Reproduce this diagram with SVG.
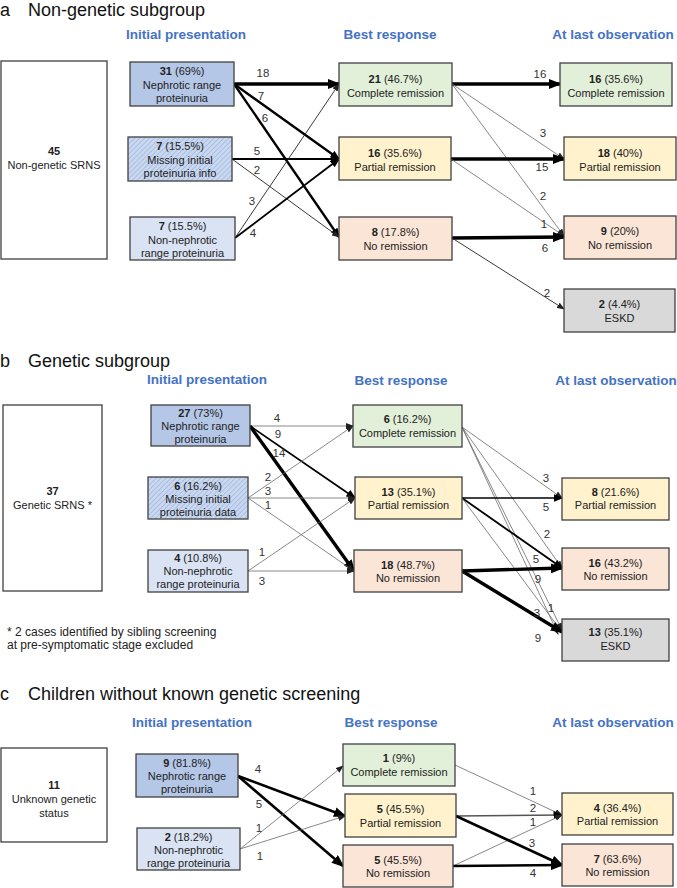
<svg xmlns="http://www.w3.org/2000/svg" width="677" height="888" viewBox="0 0 677 888">
<style>
.ti{font-family:"Liberation Sans",Arial,sans-serif;font-size:18px;fill:#111}
.hd{font-family:"Liberation Sans",Arial,sans-serif;font-size:13.5px;font-weight:bold;fill:#4472c4;text-anchor:middle}
.nt{font-family:"Liberation Sans",Arial,sans-serif;font-size:11px;fill:#222;text-anchor:middle}
.nt .b{font-weight:bold}
.lb{font-family:"Liberation Sans",Arial,sans-serif;font-size:11.5px;fill:#333;text-anchor:middle}
.fn{font-family:"Liberation Sans",Arial,sans-serif;font-size:12px;fill:#222}
.box{stroke:#404040;stroke-width:1.3}
.white{fill:#fff}
.neph{fill:#b4c7e7}
.miss{fill:url(#hatch)}
.non{fill:#dae3f3}
.cr{fill:#e2f0d9}
.pr{fill:#fff2cc}
.nr{fill:#fbe5d6}
.es{fill:#d9d9d9}
.c line{fill:none}
.th{stroke:#6a6a6a;stroke-width:0.8;marker-end:url(#aS)}
.td{stroke:#222;stroke-width:0.9;marker-end:url(#aS)}
.m1{stroke:#000;stroke-width:1.3;marker-end:url(#aM)}
.m2{stroke:#000;stroke-width:1.8;marker-end:url(#aM)}
.m3{stroke:#000;stroke-width:2.3;marker-end:url(#aM)}
.k3{stroke:#000;stroke-width:2.6;marker-end:url(#aL)}
.k4{stroke:#000;stroke-width:3.4;marker-end:url(#aL)}
</style>
<defs>
<pattern id="hatch" width="3.5" height="3.5" patternUnits="userSpaceOnUse" patternTransform="rotate(45)">
<rect width="3.5" height="3.5" fill="#cad8ef"/>
<line x1="0" y1="0" x2="0" y2="3.5" stroke="#95b0de" stroke-width="1.2"/>
</pattern>
<marker id="aL" markerUnits="userSpaceOnUse" markerWidth="13" markerHeight="10" refX="11" refY="5" orient="auto"><path d="M0,0 L13,5 L0,10 z" fill="#000"/></marker>
<marker id="aM" markerUnits="userSpaceOnUse" markerWidth="10" markerHeight="8" refX="8.5" refY="4" orient="auto"><path d="M0,0 L10,4 L0,8 z" fill="#000"/></marker>
<marker id="aS" markerUnits="userSpaceOnUse" markerWidth="8" markerHeight="6" refX="7" refY="3" orient="auto"><path d="M0,0 L8,3 L0,6 z" fill="#222"/></marker>
</defs>
<rect width="677" height="888" fill="#fff"/>

<!-- titles and headers -->
<text class="ti" x="0" y="16">a</text><text class="ti" x="28" y="16">Non-genetic subgroup</text>
<text class="hd" x="186" y="39">Initial presentation</text>
<text class="hd" x="390" y="39">Best response</text>
<text class="hd" x="613" y="39">At last observation</text>

<text class="ti" x="0" y="367">b</text><text class="ti" x="28" y="367">Genetic subgroup</text>
<text class="hd" x="207" y="384">Initial presentation</text>
<text class="hd" x="401" y="385">Best response</text>
<text class="hd" x="616" y="385">At last observation</text>

<text class="fn" x="7" y="636">* 2 cases identified by sibling screening</text>
<text class="fn" x="7" y="649">at pre-symptomatic stage excluded</text>

<text class="ti" x="0" y="700">c</text><text class="ti" x="28" y="700">Children without known genetic screening</text>
<text class="hd" x="192" y="727">Initial presentation</text>
<text class="hd" x="391" y="727">Best response</text>
<text class="hd" x="613" y="727">At last observation</text>

<!-- connectors -->
<g id="connectors" class="c">
<!-- a -->
<line class="k4" x1="234" y1="84" x2="339" y2="84"/>
<line class="m3" x1="234" y1="84" x2="339" y2="159"/>
<line class="m3" x1="234" y1="84" x2="339" y2="237"/>
<line class="m2" x1="232" y1="159" x2="339" y2="159"/>
<line class="td" x1="232" y1="159" x2="339" y2="237"/>
<line class="td" x1="235" y1="238" x2="339" y2="84"/>
<line class="m2" x1="235" y1="238" x2="339" y2="159"/>
<line class="k4" x1="452" y1="84" x2="560" y2="84"/>
<line class="th" x1="452" y1="84" x2="564" y2="159"/>
<line class="th" x1="452" y1="84" x2="564" y2="236"/>
<line class="k4" x1="451" y1="159" x2="564" y2="159"/>
<line class="th" x1="451" y1="159" x2="564" y2="236"/>
<line class="k4" x1="452" y1="238" x2="564" y2="237"/>
<line class="td" x1="452" y1="238" x2="564" y2="309"/>
<!-- b -->
<line class="th" x1="250" y1="426" x2="353" y2="426"/>
<line class="m2" x1="250" y1="426" x2="355" y2="498"/>
<line class="k4" x1="250" y1="426" x2="354" y2="571"/>
<line class="th" x1="248" y1="498" x2="353" y2="426"/>
<line class="th" x1="248" y1="498" x2="355" y2="498"/>
<line class="th" x1="248" y1="498" x2="354" y2="571"/>
<line class="th" x1="248" y1="571" x2="355" y2="498"/>
<line class="th" x1="248" y1="571" x2="354" y2="571"/>
<line class="th" x1="462" y1="427" x2="562" y2="498"/>
<line class="th" x1="462" y1="427" x2="562" y2="568"/>
<line class="th" x1="462" y1="427" x2="562" y2="630"/>
<line class="th" x1="462" y1="427" x2="558" y2="634"/>
<line class="m1" x1="462" y1="498" x2="562" y2="498"/>
<line class="m2" x1="462" y1="498" x2="562" y2="568"/>
<line class="th" x1="462" y1="498" x2="562" y2="632"/>
<line class="k4" x1="462" y1="571" x2="562" y2="568"/>
<line class="k4" x1="462" y1="571" x2="562" y2="632"/>
<!-- c -->
<line class="k3" x1="238" y1="776" x2="345" y2="816"/>
<line class="k3" x1="238" y1="776" x2="343" y2="866"/>
<line class="th" x1="240" y1="849" x2="343" y2="766"/>
<line class="th" x1="240" y1="849" x2="345" y2="816"/>
<line class="th" x1="455" y1="765" x2="562" y2="815"/>
<line class="m1" x1="456" y1="816" x2="562" y2="815" style="stroke:#555"/>
<line class="th" x1="453" y1="866" x2="562" y2="815"/>
<line class="k3" x1="456" y1="816" x2="562" y2="865"/>
<line class="k3" x1="453" y1="866" x2="562" y2="865"/>
</g>

<!-- connector labels -->
<g id="labels">
<text class="lb" x="263" y="77">18</text>
<text class="lb" x="261" y="100">7</text>
<text class="lb" x="265" y="122">6</text>
<text class="lb" x="257" y="155">5</text>
<text class="lb" x="257" y="174">2</text>
<text class="lb" x="252" y="205">3</text>
<text class="lb" x="253" y="237">4</text>
<text class="lb" x="540" y="78">16</text>
<text class="lb" x="543" y="137">3</text>
<text class="lb" x="542" y="171">15</text>
<text class="lb" x="543" y="200">2</text>
<text class="lb" x="544" y="228">1</text>
<text class="lb" x="545" y="252">6</text>
<text class="lb" x="547" y="297">2</text>

<text class="lb" x="277" y="422">4</text>
<text class="lb" x="278" y="438">9</text>
<text class="lb" x="279" y="457">14</text>
<text class="lb" x="268" y="481">2</text>
<text class="lb" x="268" y="495">3</text>
<text class="lb" x="268" y="509">1</text>
<text class="lb" x="262" y="556">1</text>
<text class="lb" x="262" y="585">3</text>
<text class="lb" x="546" y="482">3</text>
<text class="lb" x="546" y="511">5</text>
<text class="lb" x="547" y="538">2</text>
<text class="lb" x="536" y="563">5</text>
<text class="lb" x="538" y="583">9</text>
<text class="lb" x="537" y="617">3</text>
<text class="lb" x="551" y="612">1</text>
<text class="lb" x="538" y="642">9</text>

<text class="lb" x="258" y="773">4</text>
<text class="lb" x="259" y="808">5</text>
<text class="lb" x="259" y="832">1</text>
<text class="lb" x="260" y="860">1</text>
<text class="lb" x="533" y="795">1</text>
<text class="lb" x="533" y="812">2</text>
<text class="lb" x="533" y="826">1</text>
<text class="lb" x="532" y="847">3</text>
<text class="lb" x="533" y="877">4</text>
</g>

<!-- section a nodes -->
<g id="a-total"><rect class="box white" x="1" y="61" width="106" height="198"/>
<text class="nt" x="54" y="155"><tspan class="b">45</tspan></text><text class="nt" x="54" y="169">Non-genetic SRNS</text></g>
<g id="a-ip-neph"><rect class="box neph" x="130" y="62" width="104" height="44"/>
<text class="nt" x="182" y="75"><tspan class="b">31</tspan> (69%)</text><text class="nt" x="182" y="89">Nephrotic range</text><text class="nt" x="182" y="102">proteinuria</text></g>
<g id="a-ip-miss"><rect class="box miss" x="128" y="137" width="104" height="44"/>
<text class="nt" x="180" y="150"><tspan class="b">7</tspan> (15.5%)</text><text class="nt" x="180" y="164">Missing initial</text><text class="nt" x="180" y="177">proteinuria info</text></g>
<g id="a-ip-non"><rect class="box non" x="130" y="217" width="105" height="43"/>
<text class="nt" x="182.5" y="230"><tspan class="b">7</tspan> (15.5%)</text><text class="nt" x="182.5" y="244">Non-nephrotic</text><text class="nt" x="182.5" y="257">range proteinuria</text></g>
<g id="a-br-cr"><rect class="box cr" x="339" y="63" width="113" height="43"/>
<text class="nt" x="395.5" y="83"><tspan class="b">21</tspan> (46.7%)</text><text class="nt" x="395.5" y="97">Complete remission</text></g>
<g id="a-br-pr"><rect class="box pr" x="339" y="137" width="112" height="43"/>
<text class="nt" x="395" y="157"><tspan class="b">16</tspan> (35.6%)</text><text class="nt" x="395" y="171">Partial remission</text></g>
<g id="a-br-nr"><rect class="box nr" x="339" y="217" width="113" height="43"/>
<text class="nt" x="395.5" y="236"><tspan class="b">8</tspan> (17.8%)</text><text class="nt" x="395.5" y="250">No remission</text></g>
<g id="a-lo-cr"><rect class="box cr" x="560" y="63" width="112" height="43"/>
<text class="nt" x="616" y="83"><tspan class="b">16</tspan> (35.6%)</text><text class="nt" x="616" y="97">Complete remission</text></g>
<g id="a-lo-pr"><rect class="box pr" x="564" y="137" width="112" height="43"/>
<text class="nt" x="620" y="157"><tspan class="b">18</tspan> (40%)</text><text class="nt" x="620" y="171">Partial remission</text></g>
<g id="a-lo-nr"><rect class="box nr" x="564" y="216" width="112" height="43"/>
<text class="nt" x="620" y="235"><tspan class="b">9</tspan> (20%)</text><text class="nt" x="620" y="249">No remission</text></g>
<g id="a-lo-eskd"><rect class="box es" x="564" y="289" width="111" height="43"/>
<text class="nt" x="619.5" y="308"><tspan class="b">2</tspan> (4.4%)</text><text class="nt" x="619.5" y="322">ESKD</text></g>

<!-- section b nodes -->
<g id="b-total"><rect class="box white" x="3" y="405" width="99" height="186"/>
<text class="nt" x="52.5" y="495"><tspan class="b">37</tspan></text><text class="nt" x="52.5" y="509">Genetic SRNS *</text></g>
<g id="b-ip-neph"><rect class="box neph" x="151" y="405" width="99" height="41"/>
<text class="nt" x="200.5" y="417"><tspan class="b">27</tspan> (73%)</text><text class="nt" x="200.5" y="430">Nephrotic range</text><text class="nt" x="200.5" y="443">proteinuria</text></g>
<g id="b-ip-miss"><rect class="box miss" x="148" y="477" width="100" height="42"/>
<text class="nt" x="198" y="490"><tspan class="b">6</tspan> (16.2%)</text><text class="nt" x="198" y="503">Missing initial</text><text class="nt" x="198" y="516">proteinuria data</text></g>
<g id="b-ip-non"><rect class="box non" x="148" y="550" width="100" height="42"/>
<text class="nt" x="198" y="562"><tspan class="b">4</tspan> (10.8%)</text><text class="nt" x="198" y="575">Non-nephrotic</text><text class="nt" x="198" y="588">range proteinuria</text></g>
<g id="b-br-cr"><rect class="box cr" x="353" y="405" width="109" height="42"/>
<text class="nt" x="407.5" y="423"><tspan class="b">6</tspan> (16.2%)</text><text class="nt" x="407.5" y="437">Complete remission</text></g>
<g id="b-br-pr"><rect class="box pr" x="355" y="477" width="107" height="42"/>
<text class="nt" x="408.5" y="496"><tspan class="b">13</tspan> (35.1%)</text><text class="nt" x="408.5" y="509">Partial remission</text></g>
<g id="b-br-nr"><rect class="box nr" x="354" y="550" width="108" height="42"/>
<text class="nt" x="408" y="569"><tspan class="b">18</tspan> (48.7%)</text><text class="nt" x="408" y="582">No remission</text></g>
<g id="b-lo-pr"><rect class="box pr" x="562" y="478" width="107" height="42"/>
<text class="nt" x="615.5" y="496"><tspan class="b">8</tspan> (21.6%)</text><text class="nt" x="615.5" y="509">Partial remission</text></g>
<g id="b-lo-nr"><rect class="box nr" x="562" y="548" width="107" height="42"/>
<text class="nt" x="615.5" y="567"><tspan class="b">16</tspan> (43.2%)</text><text class="nt" x="615.5" y="580">No remission</text></g>
<g id="b-lo-eskd"><rect class="box es" x="562" y="619" width="107" height="42"/>
<text class="nt" x="615.5" y="636"><tspan class="b">13</tspan> (35.1%)</text><text class="nt" x="615.5" y="650">ESKD</text></g>

<!-- section c nodes -->
<g id="c-total"><rect class="box white" x="1" y="748" width="106" height="94"/>
<text class="nt" x="54" y="789"><tspan class="b">11</tspan></text><text class="nt" x="54" y="803">Unknown genetic</text><text class="nt" x="54" y="817">status</text></g>
<g id="c-ip-neph"><rect class="box neph" x="136" y="754" width="102" height="43"/>
<text class="nt" x="187" y="767"><tspan class="b">9</tspan> (81.8%)</text><text class="nt" x="187" y="780">Nephrotic range</text><text class="nt" x="187" y="793">proteinuria</text></g>
<g id="c-ip-non"><rect class="box non" x="137" y="828" width="103" height="42"/>
<text class="nt" x="188.5" y="841"><tspan class="b">2</tspan> (18.2%)</text><text class="nt" x="188.5" y="854">Non-nephrotic</text><text class="nt" x="188.5" y="867">range proteinuria</text></g>
<g id="c-br-cr"><rect class="box cr" x="343" y="744" width="112" height="42"/>
<text class="nt" x="399" y="762"><tspan class="b">1</tspan> (9%)</text><text class="nt" x="399" y="776">Complete remission</text></g>
<g id="c-br-pr"><rect class="box pr" x="345" y="794" width="111" height="43"/>
<text class="nt" x="400.5" y="813"><tspan class="b">5</tspan> (45.5%)</text><text class="nt" x="400.5" y="827">Partial remission</text></g>
<g id="c-br-nr"><rect class="box nr" x="343" y="845" width="110" height="42"/>
<text class="nt" x="398" y="864"><tspan class="b">5</tspan> (45.5%)</text><text class="nt" x="398" y="877">No remission</text></g>
<g id="c-lo-pr"><rect class="box pr" x="562" y="793" width="111" height="42"/>
<text class="nt" x="617.5" y="812"><tspan class="b">4</tspan> (36.4%)</text><text class="nt" x="617.5" y="825">Partial remission</text></g>
<g id="c-lo-nr"><rect class="box nr" x="562" y="844" width="111" height="42"/>
<text class="nt" x="617.5" y="863"><tspan class="b">7</tspan> (63.6%)</text><text class="nt" x="617.5" y="876">No remission</text></g>
</svg>
